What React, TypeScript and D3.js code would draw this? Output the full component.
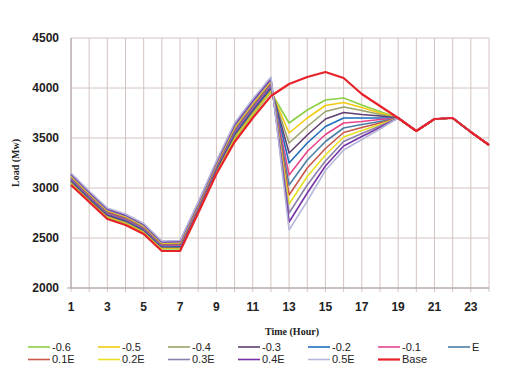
import React from 'react'
import * as d3 from 'd3'

const hours = [1, 2, 3, 4, 5, 6, 7, 8, 9, 10, 11, 12, 13, 14, 15, 16, 17, 18, 19, 20, 21, 22, 23, 24]
const xTicks = [1, 3, 5, 7, 9, 11, 13, 15, 17, 19, 21, 23]
const yTicks = [2000, 2500, 3000, 3500, 4000, 4500]

const m06 = [3045, 2870, 2705, 2645, 2555, 2390, 2390, 2770, 3160, 3490, 3730, 3960, 3650, 3780, 3880, 3900, 3830, 3765, 3700, 3570, 3690, 3700, 3560, 3430]
const m05 = [3055, 2879, 2714, 2654, 2563, 2397, 2398, 2778, 3170, 3505, 3745, 3974, 3550, 3700, 3825, 3855, 3805, 3750, 3700, 3570, 3690, 3700, 3560, 3430]
const m04 = [3064, 2888, 2722, 2662, 2571, 2405, 2405, 2786, 3180, 3519, 3759, 3987, 3450, 3615, 3765, 3810, 3775, 3735, 3700, 3570, 3690, 3700, 3560, 3430]
const m03 = [3074, 2897, 2731, 2671, 2580, 2412, 2413, 2795, 3190, 3534, 3774, 4001, 3350, 3530, 3690, 3755, 3735, 3720, 3700, 3570, 3690, 3700, 3560, 3430]
const m02 = [3083, 2906, 2740, 2680, 2588, 2419, 2421, 2803, 3200, 3548, 3788, 4015, 3250, 3450, 3615, 3700, 3700, 3700, 3700, 3570, 3690, 3700, 3560, 3430]
const m01 = [3093, 2915, 2748, 2688, 2596, 2426, 2429, 2811, 3210, 3563, 3803, 4028, 3130, 3365, 3535, 3650, 3665, 3685, 3700, 3570, 3690, 3700, 3560, 3430]
const e0 = [3102, 2925, 2757, 2697, 2604, 2434, 2436, 2819, 3220, 3577, 3817, 4042, 3030, 3280, 3465, 3600, 3635, 3665, 3700, 3570, 3690, 3700, 3560, 3430]
const e1 = [3112, 2934, 2765, 2705, 2612, 2441, 2444, 2827, 3230, 3592, 3832, 4055, 2930, 3200, 3395, 3555, 3605, 3650, 3700, 3570, 3690, 3700, 3560, 3430]
const e2 = [3121, 2943, 2774, 2714, 2620, 2448, 2452, 2835, 3240, 3606, 3846, 4069, 2840, 3115, 3330, 3510, 3575, 3635, 3700, 3570, 3690, 3700, 3560, 3430]
const e3 = [3131, 2952, 2783, 2723, 2629, 2455, 2460, 2844, 3250, 3621, 3861, 4083, 2750, 3030, 3270, 3465, 3545, 3620, 3700, 3570, 3690, 3700, 3560, 3430]
const e4 = [3140, 2961, 2791, 2731, 2637, 2463, 2467, 2852, 3260, 3635, 3875, 4096, 2660, 2950, 3220, 3420, 3515, 3605, 3700, 3570, 3690, 3700, 3560, 3430]
const e5 = [3150, 2970, 2800, 2740, 2645, 2470, 2475, 2860, 3270, 3650, 3890, 4110, 2580, 2870, 3175, 3380, 3485, 3590, 3700, 3570, 3690, 3700, 3560, 3430]
const base = [3030, 2860, 2690, 2630, 2540, 2370, 2370, 2750, 3140, 3460, 3700, 3920, 4040, 4110, 4160, 4100, 3940, 3820, 3700, 3570, 3690, 3700, 3560, 3430]

const series = [
  { name: '-0.6', values: m06, color: '#8ccf45' },
  { name: '-0.5', values: m05, color: '#f2cc10' },
  { name: '-0.4', values: m04, color: '#9ba26b' },
  { name: '-0.3', values: m03, color: '#5e3f72' },
  { name: '-0.2', values: m02, color: '#1f6ebf' },
  { name: '-0.1', values: m01, color: '#e8448c' },
  { name: 'E', values: e0, color: '#4b7fa9' },
  { name: '0.1E', values: e1, color: '#c8584a' },
  { name: '0.2E', values: e2, color: '#e6e022' },
  { name: '0.3E', values: e3, color: '#8c80aa' },
  { name: '0.4E', values: e4, color: '#7434a6' },
  { name: '0.5E', values: e5, color: '#b5b8da' },
  { name: 'Base', values: base, color: '#e8222a' },
]

const W = 507
const H = 367
const tickFont = '"Liberation Sans", Arial, sans-serif'
const serif = '"Liberation Serif", "Times New Roman", serif'

export default function App() {
  const x = d3.scaleLinear().domain([1, 24]).range([71, 489])
  const y = d3.scaleLinear().domain([2000, 4500]).range([288, 38])
  const line = d3
    .line<number>()
    .x((_, i) => x(hours[i]))
    .y((d) => y(d))

  return (
    <svg
      width={W}
      height={H}
      style={{ position: 'absolute', left: 0, top: 0, background: '#fff' }}
    >
      {/* grid */}
      {yTicks.map((t) => (
        <line key={'gy' + t} x1={x(1)} x2={x(24)} y1={y(t)} y2={y(t)} stroke="#d3c4c0" strokeWidth={1} />
      ))}
      {hours.map((h) => (
        <line key={'gx' + h} x1={x(h)} x2={x(h)} y1={y(4500)} y2={y(2000) + 4} stroke="#d3c4c0" strokeWidth={1} />
      ))}
      <line x1={x(1)} x2={x(1)} y1={y(4500)} y2={y(2000)} stroke="#a8a0a0" />
      <line x1={x(1) - 4} x2={x(24)} y1={y(2000)} y2={y(2000)} stroke="#a8a0a0" />

      {/* series */}
      {series.map((s) => (
        <path
          key={s.name}
          d={line(s.values) || ''}
          fill="none"
          stroke={s.color}
          strokeWidth={s.name === 'Base' ? 2.2 : 1.6}
          strokeLinejoin="round"
        />
      ))}

      {/* y ticks */}
      {yTicks.map((t) => (
        <text key={'ty' + t} x={59} y={y(t)} dy="0.35em" textAnchor="end" fontFamily={tickFont} fontWeight="bold" fontSize={12} fill="#222">
          {t}
        </text>
      ))}
      {xTicks.map((t) => (
        <text key={'tx' + t} x={x(t)} y={307} dy="0.35em" textAnchor="middle" fontFamily={tickFont} fontWeight="bold" fontSize={12} fill="#222">
          {t}
        </text>
      ))}

      <text x={292} y={331} dy="0.35em" textAnchor="middle" fontFamily={serif} fontWeight="bold" fontSize={10} fill="#222">
        Time (Hour)
      </text>
      <text transform={`translate(15,${(y(4500) + y(2000)) / 2}) rotate(-90)`} textAnchor="middle" dy="0.35em" fontFamily={serif} fontWeight="bold" fontSize={10} fill="#222">
        Load (Mw)
      </text>

      {/* legend */}
      {series.map((s, i) => {
        const row = i < 7 ? 0 : 1
        const col = i < 7 ? i : i - 7
        const lx = 28 + col * 70
        const ly = row === 0 ? 347 : 359.5
        return (
          <g key={'lg' + s.name}>
            <line x1={lx} x2={lx + 22} y1={ly} y2={ly} stroke={s.color} strokeWidth={s.name === 'Base' ? 2.2 : 1.6} />
            <text x={lx + 24} y={ly} dy="0.35em" fontFamily={tickFont} fontSize={11} fill="#222">
              {s.name}
            </text>
          </g>
        )
      })}
    </svg>
  )
}
